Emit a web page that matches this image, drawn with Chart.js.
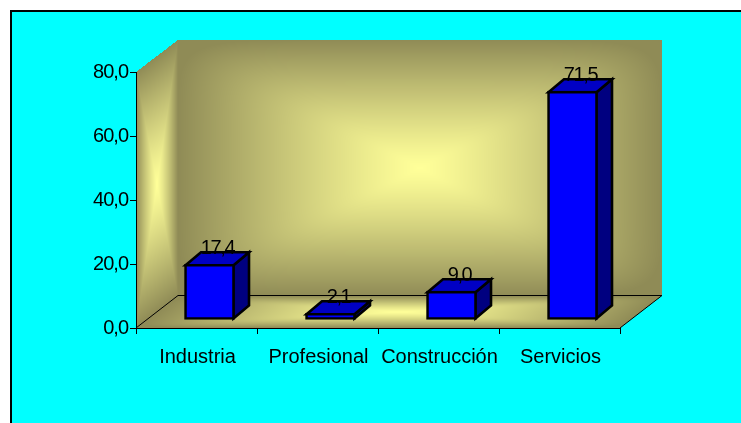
<!DOCTYPE html>
<html>
<head>
<meta charset="utf-8">
<style>
html,body{margin:0;padding:0;background:#fff;overflow:hidden}
#wrap{position:absolute;left:0;top:0;width:741px;height:423px}
</style>
<script src="https://cdn.jsdelivr.net/npm/chart.js@4/dist/chart.umd.min.js"></script>
</head>
<body>
<div id="wrap"><canvas id="c" width="741" height="423"></canvas></div>
<script>
const categories = ["Industria", "Profesional", "Construcción", "Servicios"];
const values = [17.4, 2.1, 9.0, 71.5];
const yMin = 0, yMax = 80, yStep = 20;

const fmt = v => v.toFixed(1).replace(".", ",");
const FONT = '"Liberation Sans", Arial, sans-serif';
const WALL_DX = 42, WALL_DY = 32;
const BAR_SHIFT_X = 13, BAR_SHIFT_Y = 8;
const BAR_DX = 15.5, BAR_DY = 13;
const DARK = [143, 139, 86], BRIGHT = [255, 255, 153];

function shade(u, v, p) {
  const a = Math.abs(2 * u - 1), b = Math.abs(2 * v - 1);
  const t = Math.min(1, p ? Math.pow(Math.pow(a, p) + Math.pow(b, p), 1 / p) : Math.max(a, b));
  const f = 1 - Math.pow(t, 1.2);
  return [0, 1, 2].map(i => DARK[i] + (BRIGHT[i] - DARK[i]) * f);
}

function paintSurface(ctx, x0, y0, w, h, p, mapper) {
  const off = document.createElement("canvas");
  off.width = w; off.height = h;
  const octx = off.getContext("2d");
  const img = octx.createImageData(w, h);
  for (let py = 0; py < h; py++) {
    for (let px = 0; px < w; px++) {
      const uv = mapper(px + x0 + 0.5, py + y0 + 0.5);
      if (!uv) continue;
      const c = shade(uv[0], uv[1], p);
      const k = (py * w + px) * 4;
      img.data[k] = c[0]; img.data[k + 1] = c[1]; img.data[k + 2] = c[2]; img.data[k + 3] = 255;
    }
  }
  octx.putImageData(img, 0, 0);
  ctx.drawImage(off, x0, y0);
}

const inUnit = a => a >= 0 && a <= 1;

const scenePlugin = {
  id: "scene",
  beforeDraw(chart) {
    const { ctx, chartArea: a, width, height } = chart;
    ctx.save();
    ctx.fillStyle = "#ffffff";
    ctx.fillRect(0, 0, width, height);
    ctx.fillStyle = "#000000";
    ctx.fillRect(10, 10, width - 10, height - 10);
    ctx.fillStyle = "#00ffff";
    ctx.fillRect(12, 12, width - 12, height - 12);

    const W = a.right - a.left, H = a.bottom - a.top;
    const X0 = Math.floor(a.left), Y0 = Math.floor(a.top - WALL_DY);
    const total = Math.ceil(W + WALL_DX) + 1, totalH = Math.ceil(H + WALL_DY) + 1;

    // back wall
    paintSurface(ctx, X0 + WALL_DX, Y0, Math.ceil(W), Math.ceil(H), 8, (x, y) => {
      const u = (x - a.left - WALL_DX) / W, v = (y - a.top + WALL_DY) / H;
      return [u, v];
    });
    // left wall
    paintSurface(ctx, X0, Y0, WALL_DX + 1, totalH, 0, (x, y) => {
      const u = (x - a.left) / WALL_DX;
      const v = (y - a.top + WALL_DY * u) / H;
      return inUnit(u) && inUnit(v) ? [u, v] : null;
    });
    // floor
    paintSurface(ctx, X0, Math.floor(a.bottom - WALL_DY), total, WALL_DY + 1, 8, (x, y) => {
      const v = (a.bottom - y) / WALL_DY;
      const u = (x - a.left - WALL_DX * v) / W;
      return inUnit(u) && inUnit(v) ? [u, v] : null;
    });

    ctx.strokeStyle = "#000000";
    ctx.lineWidth = 1;
    ctx.beginPath();
    const backY = Math.round(a.bottom - WALL_DY) - 0.5;
    ctx.moveTo(a.left, a.bottom);
    ctx.lineTo(a.left + WALL_DX, backY);
    ctx.lineTo(a.right + WALL_DX, backY);
    ctx.lineTo(a.right, a.bottom);
    ctx.stroke();
    ctx.restore();
  },
  beforeDatasetDraw(chart, args) {
    const { ctx } = chart;
    const meta = args.meta;
    ctx.save();
    ctx.translate(BAR_SHIFT_X, -BAR_SHIFT_Y);
    ctx.lineWidth = 2.6;
    ctx.strokeStyle = "#000000";
    ctx.lineJoin = "miter";
    meta.data.forEach(el => {
      const p = el.getProps(["x", "y", "base", "width"], true);
      const l = p.x - p.width / 2 + 1, r = p.x + p.width / 2 - 1;
      const t = p.y + 1, b = p.base - 1;
      ctx.beginPath();
      ctx.moveTo(r, t);
      ctx.lineTo(r + BAR_DX, t - BAR_DY);
      ctx.lineTo(r + BAR_DX, b - BAR_DY);
      ctx.lineTo(r, b);
      ctx.closePath();
      ctx.fillStyle = "#000080";
      ctx.fill(); ctx.stroke();
      ctx.beginPath();
      ctx.moveTo(l, t);
      ctx.lineTo(l + BAR_DX, t - BAR_DY);
      ctx.lineTo(r + BAR_DX, t - BAR_DY);
      ctx.lineTo(r, t);
      ctx.closePath();
      ctx.fillStyle = "#0000c4";
      ctx.fill(); ctx.stroke();
    });
  },
  afterDatasetDraw(chart) {
    chart.ctx.restore();
  },
  afterDatasetsDraw(chart) {
    const { ctx } = chart;
    const meta = chart.getDatasetMeta(0);
    ctx.save();
    ctx.font = "20px " + FONT;
    ctx.letterSpacing = "-1.4px";
    ctx.fillStyle = "#000000";
    ctx.textAlign = "center";
    ctx.textBaseline = "middle";
    meta.data.forEach((el, i) => {
      ctx.fillText(fmt(values[i]), el.x + 21, el.y - 24);
    });
    ctx.restore();
  }
};

function tightenLabels(scale, spacing) {
  if (scale._tightened) return;
  scale._tightened = true;
  const orig = scale.drawLabels;
  scale.drawLabels = function (area) {
    const c = this.ctx;
    c.save();
    c.letterSpacing = spacing;
    orig.call(this, area);
    c.restore();
  };
}

new Chart(document.getElementById("c"), {
  type: "bar",
  data: {
    labels: categories,
    datasets: [{
      data: values,
      backgroundColor: "#0000ff",
      borderColor: "#000000",
      borderWidth: 2.6,
      borderSkipped: false,
      barThickness: 50,
      clip: false
    }]
  },
  options: {
    responsive: false,
    animation: false,
    layout: { padding: { left: 0, right: 121, top: 72, bottom: 0 } },
    plugins: { legend: { display: false }, title: { display: false }, tooltip: { enabled: false } },
    scales: {
      x: {
        offset: true,
        afterFit(s) { s.height = 95; },
        grid: { offset: true, drawOnChartArea: false, tickLength: 6, color: "#000000", lineWidth: 1 },
        border: { display: true, color: "#000000", width: 1 },
        ticks: {
          autoSkip: false, maxRotation: 0, minRotation: 0, padding: 11, labelOffset: 1,
          color: "#000000", font: { family: FONT, size: 20 }
        }
      },
      y: {
        min: yMin, max: yMax,
        afterFit(s) { s.width = 136; tightenLabels(s, "-1px"); },
        grid: { drawOnChartArea: false, tickLength: 6, color: "#000000", lineWidth: 1 },
        border: { display: true, color: "#000000", width: 1 },
        ticks: {
          stepSize: yStep, padding: 2, color: "#000000",
          font: { family: FONT, size: 20 },
          callback: v => fmt(v)
        }
      }
    }
  },
  plugins: [scenePlugin]
});
</script>
</body>
</html>
